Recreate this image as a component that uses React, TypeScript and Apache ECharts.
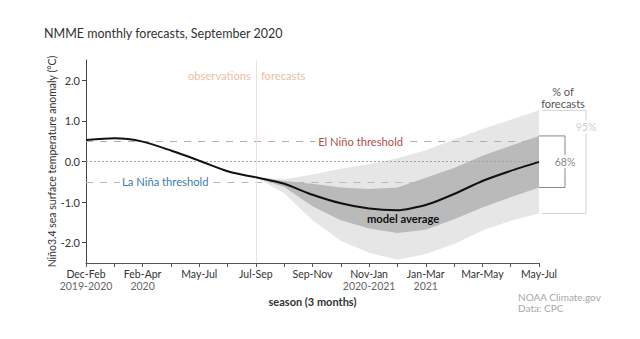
import React, { useEffect, useRef } from "react";
import * as echarts from "echarts";

const tickLabels = ["Dec-Feb", "Feb-Apr", "May-Jul", "Jul-Sep", "Sep-Nov", "Nov-Jan", "Jan-Mar", "Mar-May", "May-Jul"];
const tickYears = ["2019-2020", "2020", "", "", "", "2020-2021", "2021", "", ""];
const monthTicks = [0, 1, 2, 3, 4, 5, 6, 7, 8, 9, 10, 11, 12, 13, 14, 15, 16];

// observed index 0..6 (monthly steps)
const obsX = [0, 1, 2, 3, 4, 5, 6];
const observed = [0.53, 0.57, 0.49, 0.27, 0.02, -0.24, -0.39];
// forecast index 6..16
const fcX = [6, 7, 8, 9, 10, 11, 12, 13, 14, 15, 16];
const modelAvg = [-0.39, -0.55, -0.82, -1.03, -1.16, -1.2, -1.07, -0.8, -0.48, -0.23, -0.01];
const upper95 = [-0.39, -0.44, -0.32, -0.18, -0.06, 0.08, 0.28, 0.54, 0.8, 1.03, 1.26];
const upper68 = [-0.39, -0.48, -0.55, -0.64, -0.68, -0.64, -0.4, -0.16, 0.14, 0.39, 0.63];
const lower68 = [-0.39, -0.63, -1.1, -1.45, -1.65, -1.76, -1.68, -1.42, -1.13, -0.88, -0.64];
const lower95 = [-0.39, -0.78, -1.45, -1.95, -2.25, -2.42, -2.28, -2.03, -1.7, -1.46, -1.28];

const FONT = "Lato";

function band(upper: number[], lower: number[], fill: string, z: number) {
  return {
    type: "custom",
    data: [[fcX[0], upper[0]]],
    encode: { x: 0, y: 1 },
    z,
    silent: true,
    renderItem: (_params: any, api: any) => {
      const up = fcX.map((x, i) => api.coord([x, upper[i]]));
      const lo = fcX.map((x, i) => api.coord([x, lower[i]])).reverse();
      return { type: "polygon", shape: { points: [...up, ...lo] }, style: { fill, stroke: null } };
    },
  };
}

export default function App() {
  const ref = useRef<HTMLDivElement>(null);
  useEffect(() => {
    if (!ref.current) return;
    const chart = echarts.init(ref.current, undefined, { renderer: "svg" });
    const pair = (xs: number[], ys: number[]) => xs.map((x, i) => [x, ys[i]]);
    const option: any = {
      animation: false,
      textStyle: { fontFamily: FONT },
      title: {
        text: "NMME monthly forecasts, September 2020",
        left: 39,
        top: 22,
        textStyle: { fontSize: 12.5, fontWeight: "normal", color: "#333", fontFamily: FONT },
      },
      grid: { left: 86, right: 101, top: 60, bottom: 76 },
      xAxis: {
        type: "value",
        min: 0,
        max: 16,
        interval: 1,
        name: "season (3 months)",
        nameLocation: "middle",
        nameGap: 25,
        nameTextStyle: { fontSize: 11, fontWeight: "bold", color: "#333", fontFamily: FONT },
        axisLine: { show: true, onZero: false, lineStyle: { color: "#555" } },
        axisTick: { show: true, length: 4, customValues: monthTicks, lineStyle: { color: "#555", width: 1 } },
        splitLine: { show: false },
        axisLabel: {
          margin: 5,
          formatter: (v: number) => {
            if (v % 2 !== 0) return "";
            const i = v / 2;
            return tickYears[i] ? `{a|${tickLabels[i]}}\n{b|${tickYears[i]}}` : `{a|${tickLabels[i]}}`;
          },
          rich: {
            a: { fontSize: 10.5, color: "#333", lineHeight: 12, fontFamily: FONT },
            b: { fontSize: 10.5, color: "#666", lineHeight: 12, fontFamily: FONT },
          },
        },
      },
      yAxis: {
        type: "value",
        min: -2.5,
        max: 2.5,
        interval: 0.5,
        name: "Niño3.4 sea surface temperature anomaly (°C)",
        nameLocation: "middle",
        nameGap: 29,
        nameMoveOverlap: false,
        nameTextStyle: { fontSize: 10.5, color: "#333", fontFamily: FONT },
        axisLine: { show: true, onZero: false, lineStyle: { color: "#444" } },
        axisTick: { show: true, length: 4, customValues: [-2, -1, 0, 1, 2], lineStyle: { color: "#444" } },
        splitLine: { show: false },
        axisLabel: {
          customValues: [-2, -1, 0, 1, 2],
          margin: 6,
          fontSize: 11,
          color: "#333",
          formatter: (v: number) => v.toFixed(1),
        },
      },
      series: [
        band(upper95, lower95, "#e6e6e6", 1),
        band(upper68, lower68, "#bababa", 2),
        {
          type: "line",
          data: [],
          z: 3,
          silent: true,
          markLine: {
            symbol: "none",
            silent: true,
            label: { show: false },
            data: [
              [{ coord: [0, 0], lineStyle: { color: "#a5a5a5", type: [2, 2], width: 1 } }, { coord: [16, 0] }],
              [{ coord: [0, 0.5], lineStyle: { color: "#c9a5a5", type: [7, 7], width: 1 } }, { coord: [8.1, 0.5] }],
              [{ coord: [11.45, 0.5], lineStyle: { color: "#c9a5a5", type: [7, 7], width: 1 } }, { coord: [16, 0.5] }],
              [{ coord: [0, -0.5], lineStyle: { color: "#a7bccd", type: [7, 7], width: 1 } }, { coord: [1.2, -0.5] }],
              [{ coord: [4.5, -0.5], lineStyle: { color: "#a7bccd", type: [7, 7], width: 1 } }, { coord: [16, -0.5] }],
              [{ coord: [6, -2.5], lineStyle: { color: "#ece4dc", type: "solid", width: 1 } }, { coord: [6, 2.5] }],
            ],
          },
          markPoint: {
            symbol: "rect",
            symbolSize: 0,
            silent: true,
            data: [
              { coord: [9.7, 0.5], label: { formatter: "El Niño threshold", color: "#b0504c", fontSize: 11.2 } },
              { coord: [2.8, -0.5], label: { formatter: "La Niña threshold", color: "#3c7cae", fontSize: 11.2 } },
              { coord: [11.2, -1.4], label: { formatter: "model average", color: "#111", fontSize: 11.2, fontWeight: "bold" } },
              { coord: [6, 2.12], label: { formatter: "observations", color: "#ebbfa3", fontSize: 11.2, align: "right", offset: [-5, 0] } },
              { coord: [6, 2.12], label: { formatter: "forecasts", color: "#ebbfa3", fontSize: 11.2, align: "left", offset: [5, 0] } },
            ],
            label: { show: true, position: "inside", fontFamily: FONT },
          },
        },
        {
          type: "line",
          data: pair(obsX, observed),
          symbol: "none",
          smooth: 0.25,
          lineStyle: { color: "#111", width: 2 },
          z: 5,
        },
        {
          type: "line",
          data: pair(fcX, modelAvg),
          symbol: "none",
          smooth: 0.2,
          lineStyle: { color: "#111", width: 2 },
          z: 5,
        },
      ],
    };
    chart.setOption(option);

    const last = fcX.length - 1;
    const px = (v: number) => chart.convertToPixel({ gridIndex: 0 }, [16, v]) as number[];
    const t95 = px(upper95[last]);
    const b95 = px(lower95[last]);
    const t68 = px(upper68[last]);
    const b68 = px(lower68[last]);
    const x0 = t95[0];
    const x68 = x0 + 26;
    const x95 = x0 + 47;
    chart.setOption({
      graphic: [
        { type: "polyline", shape: { points: [[x0 + 3, t95[1]], [x95, t95[1]], [x95, b95[1]], [x0 + 3, b95[1]]] }, style: { stroke: "#d2d2d2", fill: null, lineWidth: 1 } },
        { type: "polyline", shape: { points: [[x0, t68[1]], [x68, t68[1]], [x68, b68[1]], [x0, b68[1]]] }, style: { stroke: "#888", fill: null, lineWidth: 1 } },
        { type: "text", x: x68, y: (t68[1] + b68[1]) / 2, style: { text: "68%", fill: "#888", fontSize: 10.5, fontFamily: FONT, align: "center", verticalAlign: "middle", backgroundColor: "#fff", padding: [1, 0] } },
        { type: "text", x: x95, y: t95[1] + 17, style: { text: "95%", fill: "#cfcfcf", fontSize: 10.5, fontFamily: FONT, align: "center", verticalAlign: "middle", backgroundColor: "#fff", padding: [1, 0] } },
        { type: "text", x: 563, y: 91, style: { text: "% of", fill: "#555", fontSize: 11, fontFamily: FONT, align: "center", verticalAlign: "middle" } },
        { type: "text", x: 563, y: 103, style: { text: "forecasts", fill: "#555", fontSize: 11, fontFamily: FONT, align: "center", verticalAlign: "middle" } },
        { type: "text", x: 518, y: 297, style: { text: "NOAA Climate.gov", fill: "#a8a8a8", fontSize: 10, fontFamily: FONT, align: "left", verticalAlign: "middle" } },
        { type: "text", x: 518, y: 308, style: { text: "Data: CPC", fill: "#a8a8a8", fontSize: 10, fontFamily: FONT, align: "left", verticalAlign: "middle" } },
      ],
    });
    return () => chart.dispose();
  }, []);
  return <div ref={ref} style={{ width: 640, height: 339, position: "absolute", left: 0, top: 0 }} />;
}
